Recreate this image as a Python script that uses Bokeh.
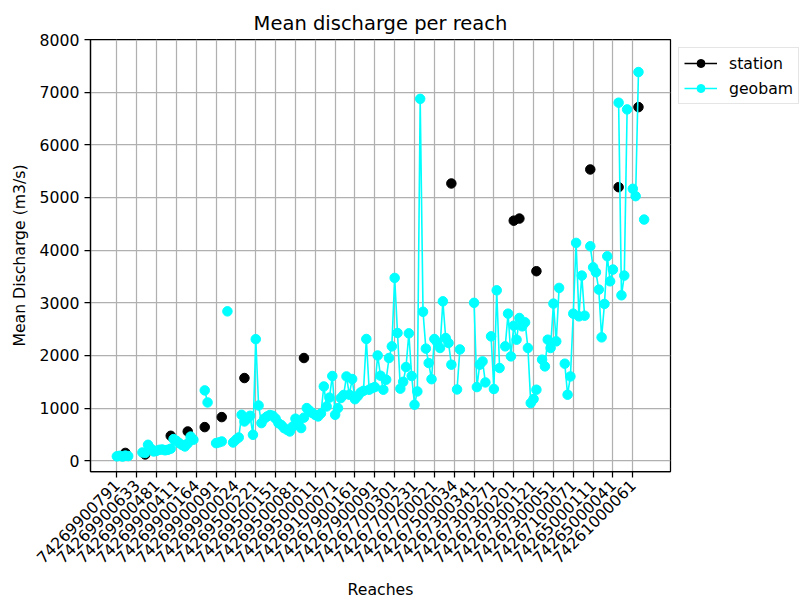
import numpy as np
from math import pi
from bokeh.plotting import figure
from bokeh.models import ColumnDataSource, Range1d, FixedTicker, Legend, LegendItem
from bokeh.embed import file_html
from bokeh.resources import INLINE

nan = float("nan")

# ---- data -----------------------------------------------------------------
n_reaches = 187          # reaches along the x axis (index 0 .. 186)
tick_step = 7            # one labelled tick every 7 reaches
tick_labels = [
    "74269900791", "74269900633", "74269900481", "74269900411", "74269900164",
    "74269900091", "74269900024", "74269500221", "74269500151", "74269500081",
    "74269500011", "74269100071", "74267900161", "74267900091", "74267700301",
    "74267700231", "74267700021", "74267500034", "74267300341", "74267300271",
    "74267300201", "74267300121", "74267300051", "74267100071", "74265000111",
    "74265000041", "74261000061",
]
y_ticks = [0, 1000, 2000, 3000, 4000, 5000, 6000, 7000, 8000]

geobam = [
    85, 95, 80, 100, 90, nan, nan, nan, nan, 158,
    150, 304, 230, 177, 190, 209, 215, 200, 209, 230,
    412, 380, 336, 300, 272, 330, 460, 400, nan, nan,
    nan, 1337, 1108, nan, nan, 336, 350, 367, nan, 2838,
    nan, 348, 400, 443, 874, 747, 800, 855, 494, 2310,
    1050, 716, 800, 842, 870, 855, 800, 716, 680, 621,
    590, 557, 650, 800, 684, 622, 820, 1001, 950, 907,
    870, 842, 900, 1412, 1032, 1200, 1610, 874, 1001, 1192,
    1250, 1602, 1255, 1553, 1170, 1230, 1298, 1330, 2313, 1350,
    1380, 1400, 2000, 1616, 1350, 1540, 1952, 2173, 3473, 2427,
    1370, 1500, 1780, 2420, 1610, 1065, 1317, 6873, 2830, 2130,
    1857, 1550, 2313, 2250, 2142, 3028, 2332, 2237, 1825, nan,
    1355, 2115, nan, nan, nan, nan, 3000, 1400, 1825, 1888,
    1488, nan, 2363, 1363, 3237, 1762, nan, 2173, 2794, 1983,
    2566, 2300, 2712, 2553, 2629, 2142, 1097, 1173, 1350, nan,
    1920, 1793, 2300, 2142, 2985, 2268, 3283, nan, 1844, 1255,
    1602, 2794, 4138, 2743, 3517, 2756, nan, 4074, 3675, 3580,
    3251, 2344, 2979, 3884, 3409, 3631, nan, 6800, 3143, 3517,
    6673, nan, 5165, 5025, 7382, nan, 4581,
]

station_reach_index = [3, 10, 19, 25, 31, 37, 45, 66, 118, 140, 142, 148, 167, 177, 184]
station_discharge = [150, 120, 475, 557, 640, 830, 1572, 1952, 5266, 4560, 4600, 3600, 5532, 5196, 6716]

# ---- build sources -----------------------------------------------------------
x = np.arange(n_reaches)
station = np.full(n_reaches, np.nan)
station[station_reach_index] = station_discharge
geo = np.array(geobam, dtype=float)

src_station = ColumnDataSource(dict(x=x, y=station))
src_geo = ColumnDataSource(dict(x=x, y=geo))

FONT = "DejaVu Sans"
FS = "15.7px"

p = figure(
    frame_width=580, frame_height=432,
    x_range=Range1d(-0.05 * (n_reaches - 1), 1.05 * (n_reaches - 1)),
    y_range=Range1d(-203, 8000),
    output_backend="svg", toolbar_location=None,
    min_border_left=90, min_border_right=127, min_border_top=39, min_border_bottom=126,
    title="Mean discharge per reach",
    background_fill_color="white", border_fill_color="white",
)

st_line = p.line("x", "y", source=src_station, color="black", line_width=1.6)
st_pts = p.scatter("x", "y", source=src_station, color="black", size=9.5)
gb_line = p.line("x", "y", source=src_geo, color="#00ffff", line_width=1.6)
gb_pts = p.scatter("x", "y", source=src_geo, color="#00ffff", size=9.5)

# title
p.title.align = "center"
p.title.text_font = FONT
p.title.text_font_size = "19.5px"
p.title.text_font_style = "normal"
p.title.text_color = "black"

# axes
tick_positions = list(range(0, n_reaches, tick_step))
p.xaxis.ticker = FixedTicker(ticks=tick_positions)
p.xaxis.major_label_overrides = {t: lab for t, lab in zip(tick_positions, tick_labels)}
p.xaxis.major_label_orientation = pi / 4
p.yaxis.ticker = FixedTicker(ticks=y_ticks)

p.xaxis.axis_label = "Reaches"
p.yaxis.axis_label = "Mean Discharge (m3/s)"
for ax in (p.xaxis[0], p.yaxis[0]):
    ax.axis_label_text_font = FONT
    ax.axis_label_text_font_size = FS
    ax.axis_label_text_font_style = "normal"
    ax.axis_label_text_color = "black"
    ax.major_label_text_font = FONT
    ax.major_label_text_font_size = FS
    ax.major_label_text_color = "black"
    ax.axis_line_color = "black"
    ax.axis_line_width = 1.25
    ax.major_tick_line_color = "black"
    ax.major_tick_line_width = 1.25
    ax.major_tick_out = 6
    ax.major_tick_in = 0
    ax.minor_tick_line_color = None
    ax.major_label_standoff = 5
p.yaxis.axis_label_standoff = 8
p.xaxis.axis_label_standoff = 8

p.outline_line_color = "black"
p.outline_line_width = 1.25

p.xgrid.grid_line_color = "#b0b0b0"
p.ygrid.grid_line_color = "#b0b0b0"
p.xgrid.grid_line_width = 1.25
p.ygrid.grid_line_width = 1.25

legend = Legend(
    items=[LegendItem(label="station", renderers=[st_line, st_pts]),
           LegendItem(label="geobam", renderers=[gb_line, gb_pts])],
    location=(8, 367),
)
legend.label_text_font = FONT
legend.label_text_font_size = FS
legend.label_text_color = "black"
legend.glyph_width = 33
legend.glyph_height = 20
legend.label_height = 20
legend.label_standoff = 12
legend.spacing = 5
legend.padding = 5
legend.margin = 0
legend.border_line_color = "#cccccc"
legend.border_line_width = 1.25
legend.background_fill_alpha = 0.8
p.add_layout(legend, "right")

open("out.html", "w").write(file_html(p, INLINE))
